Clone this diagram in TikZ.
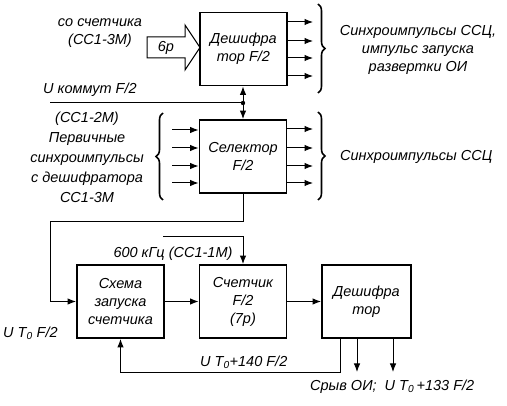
\documentclass[tikz,border=0pt]{standalone}
\usepackage{fontspec}
\setmainfont{Liberation Sans}
\usetikzlibrary{arrows.meta,decorations.pathreplacing}
\begin{document}
\begin{tikzpicture}[x=1pt,y=-1pt,
  every node/.style={font=\fontsize{14.5}{18}\selectfont\itshape, inner sep=0pt},
  blk/.style={draw, line width=1.8pt, align=center, minimum width=87pt, minimum height=73pt},
  arr/.style={-{Latex[length=8.5pt,width=6.5pt]}, line width=1pt},
  wire/.style={line width=1pt},
  brc/.style={decorate, decoration={brace, amplitude=7pt}, line width=1.6pt},
  lbl/.style={align=center}]
\useasboundingbox (0,0) rectangle (507,406);

% blocks
\node[blk] (top) at (243.5,49) {Дешифра\\тор F/2};
\node[blk] (sel) at (243,156.5) {Селектор\\F/2};
\node[blk] (sch) at (120.5,301.5) {Схема\\запуска\\счетчика};
\node[blk] (cnt) at (243,301.5) {Счетчик\\F/2\\(7р)};
\node[blk, minimum width=89pt] (dec) at (366.5,301.5) {Дешифра\\тор};

% big input arrow 6p
\draw[line width=1pt] (147,37) -- (185,37) -- (185,25) -- (200,47.5) -- (185,70) -- (185,58) -- (147,58) -- cycle;
\node (six) at (166,48) {6р};
\node[lbl] (src) at (100,33) {со счетчика\\(СС1-3М)};

% top outputs
\foreach \yy/\n in {22/a,41/b,58/c,76/d}{
  \coordinate (to\n) at (313,\yy);
  \draw[arr] (top.east |- to\n) -- (to\n);
}
\draw[brc] (318,4) -- (318,93);
\node[lbl] (toptxt) at (418,50) {Синхроимпульсы ССЦ,\\импульс запуска\\развертки ОИ};

% commutation line
\coordinate (J) at (243,103);
\coordinate (Ustart) at (50,103);
\draw[wire] (Ustart) -- (J);
\draw[arr] (J) -- (J |- top.south);
\draw[arr] (J) -- (J |- sel.north);
\fill (J) circle (2.2pt);
\node[anchor=west] (ulab) at (43,90) {U коммут F/2};

% selector inputs
\foreach \yy/\n in {130/a,148/b,166/c,183/d}{
  \coordinate (si\n) at (172,\yy);
  \draw[arr] (si\n) -- (sel.west |- si\n);
}
\draw[brc] (163,200) -- (163,113);
\node[lbl, font=\fontsize{14.5}{20}\selectfont\itshape] (seltxt) at (87,157) {(СС1-2М)\\Первичные\\синхроимпульсы\\с дешифратора\\СС1-3М};

% selector outputs
\foreach \yy/\n in {129/a,148/b,166/c,183/d}{
  \coordinate (so\n) at (313,\yy);
  \draw[arr] (sel.east |- so\n) -- (so\n);
}
\draw[brc] (318,112) -- (318,200);
\node[anchor=west] (seltxtr) at (340,157) {Синхроимпульсы ССЦ};

% selector to start scheme
\coordinate (lc) at (50,222);
\draw[arr] (sel.south) |- (lc) |- (sch.west);
\node[anchor=west] (ut0) at (3,333) {U T\textsubscript{0} F/2};

% 600 kHz
\coordinate (f600) at (163,237);
\draw[arr] (f600) -| (cnt.north);
\node (f600lab) at (173,254) {600 кГц (СС1-1М)};

% chain
\draw[arr] (sch.east) -- (cnt.west);
\draw[arr] (cnt.east) -- (dec.west);

% feedback
\coordinate (fbs) at (340,338);
\coordinate (fbc) at (120.5,373);
\draw[arr] (fbs) |- (fbc) -- (sch.south);
\node[anchor=west] (fblab) at (200,362) {U T\textsubscript{0}+140 F/2};

% decoder outputs
\coordinate (d1) at (357,372);
\coordinate (d2) at (393,372);
\draw[arr] (d1 |- dec.south) -- (d1);
\draw[arr] (d2 |- dec.south) -- (d2);
\node[anchor=west] (declab) at (310,387) {Срыв ОИ;\ \ U T\textsubscript{0}\,+133 F/2};
\end{tikzpicture}
\end{document}
